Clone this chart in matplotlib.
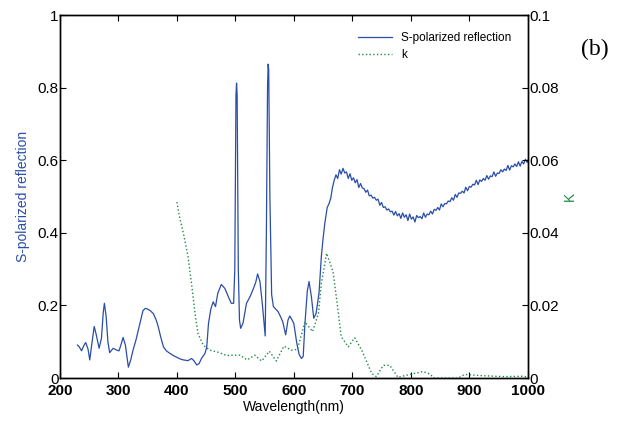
import matplotlib
matplotlib.use("Agg")
import matplotlib.pyplot as plt

plt.rcParams["font.family"] = ["Liberation Sans", "DejaVu Sans"]

# S-polarized reflection (left axis)
wl_s = [230, 233, 237, 241, 244, 248, 251, 255, 258.6, 262, 267, 271, 274, 276, 279, 282, 285,
        291, 297, 301, 305, 308, 312, 317, 321, 325, 330, 334, 338, 342, 346, 350, 355, 360,
        365, 368, 372, 377, 382, 388, 394, 400, 405, 411, 419, 425, 429, 434, 438, 442, 448,
        451, 454, 458, 462, 466, 470, 476, 482, 488, 493, 497, 499, 501, 502, 503, 505, 507,
        509, 513, 519, 525, 531, 535, 538, 542, 546, 549, 551, 553, 555, 556, 557, 559, 562,
        565, 569, 573, 577, 581, 586, 590, 593, 597, 600, 605, 609, 613, 616, 619, 623, 626,
        630, 634, 638, 643, 647, 650, 653, 657, 660, 663,
        666, 669, 672, 675, 678, 681, 684, 687, 690, 693, 696, 699, 702, 705, 708, 711, 714,
        717, 720, 723, 726, 729, 732, 735, 738, 741, 744, 747, 750, 753, 756, 759, 762, 765,
        768, 771, 774, 777, 780, 783, 786, 789, 792, 795, 798, 801, 804, 807, 810, 813, 816,
        819, 822, 825, 828, 831, 834, 837, 840, 843, 846, 849, 852, 855, 858, 861, 864, 867,
        870, 873, 876, 879, 882, 885, 888, 891, 894, 897, 900, 903, 906, 909, 912, 915, 918,
        921, 924, 927, 930, 933, 936, 939, 942, 945, 948, 951, 954, 957, 960, 963, 966, 969,
        972, 975, 978, 981, 984, 987, 990, 993, 996, 999, 1000]
refl_s = [0.091, 0.086, 0.075, 0.090, 0.098, 0.080, 0.050, 0.100, 0.142, 0.120, 0.082, 0.110,
          0.180, 0.206, 0.170, 0.100, 0.070, 0.082, 0.077, 0.075, 0.095, 0.112, 0.090, 0.030,
          0.050, 0.077, 0.105, 0.132, 0.160, 0.186, 0.192, 0.190, 0.185, 0.177, 0.158, 0.142,
          0.115, 0.086, 0.075, 0.068, 0.062, 0.057, 0.053, 0.050, 0.048, 0.054, 0.048, 0.036,
          0.040, 0.054, 0.068, 0.085, 0.150, 0.190, 0.210, 0.197, 0.234, 0.258, 0.247, 0.224,
          0.206, 0.206, 0.300, 0.780, 0.813, 0.780, 0.300, 0.160, 0.137, 0.151, 0.206, 0.224,
          0.247, 0.265, 0.287, 0.266, 0.206, 0.150, 0.116, 0.400, 0.800, 0.865, 0.850, 0.500,
          0.230, 0.197, 0.190, 0.183, 0.170, 0.155, 0.119, 0.160, 0.171, 0.160, 0.150, 0.096,
          0.065, 0.054, 0.060, 0.151, 0.240, 0.266, 0.224, 0.165, 0.178, 0.234, 0.335, 0.385,
          0.427, 0.470, 0.480, 0.495,
          0.525, 0.545, 0.560, 0.550, 0.574, 0.562, 0.578, 0.565, 0.568, 0.550, 0.563, 0.545,
          0.552, 0.538, 0.547, 0.525, 0.536, 0.524, 0.522, 0.512, 0.518, 0.502, 0.504, 0.496,
          0.498, 0.490, 0.493, 0.476, 0.484, 0.470, 0.472, 0.463, 0.466, 0.458, 0.460, 0.449,
          0.459, 0.447, 0.453, 0.440, 0.455, 0.443, 0.450, 0.434, 0.452, 0.438, 0.444, 0.430,
          0.448, 0.442, 0.445, 0.439, 0.455, 0.443, 0.452, 0.450, 0.460, 0.452, 0.465, 0.462,
          0.470, 0.463, 0.480, 0.472, 0.481, 0.480, 0.488, 0.486, 0.497, 0.490, 0.506, 0.498,
          0.510, 0.509, 0.515, 0.510, 0.526, 0.516, 0.528, 0.526, 0.534, 0.532, 0.545, 0.533,
          0.546, 0.542, 0.550, 0.545, 0.558, 0.548, 0.557, 0.555, 0.568, 0.556, 0.565, 0.564,
          0.574, 0.568, 0.576, 0.572, 0.586, 0.573, 0.585, 0.582, 0.590, 0.583, 0.596, 0.584,
          0.597, 0.590, 0.603, 0.594, 0.600]

# extinction coefficient k (right axis)
wl_k = [400, 405, 411, 419, 425, 431, 436, 445, 456, 473, 485, 496, 508, 520, 533, 545, 558,
        570, 583, 596, 606, 619, 632, 642, 647, 656, 667, 674, 681, 693, 704, 716, 733, 741,
        753, 764, 778, 793, 821, 830, 841, 881, 892, 918, 958, 992, 1000]
k_vals = [0.0485, 0.044, 0.040, 0.0335, 0.026, 0.0178, 0.0123, 0.0091, 0.0077, 0.0070, 0.0062,
          0.0063, 0.0063, 0.0050, 0.0063, 0.0047, 0.0074, 0.0047, 0.0088, 0.0077, 0.0079,
          0.0155, 0.0128, 0.0178, 0.026, 0.0344, 0.0293, 0.0206, 0.0114, 0.0086, 0.0111,
          0.0077, 0.0013, 0.0004, 0.0035, 0.0035, 0.0002, 0.0008, 0.0018, 0.0013, 0.0, 0.0,
          0.0010, 0.0007, 0.0004, 0.0005, 0.0003]

x_ticks = [200, 300, 400, 500, 600, 700, 800, 900, 1000]
left_ticks = [0, 0.2, 0.4, 0.6, 0.8, 1]
left_labels = ["0", "0.2", "0.4", "0.6", "0.8", "1"]
right_ticks = [0, 0.02, 0.04, 0.06, 0.08, 0.1]
right_labels = ["0", "0.02", "0.04", "0.06", "0.08", "0.1"]

blue = "#2a4da8"
green = "#1f8a45"

fig = plt.figure(figsize=(6.18, 4.21), dpi=100)
ax = fig.add_axes([0.097, 0.102, 0.757, 0.862])
ax2 = ax.twinx()

l1, = ax.plot(wl_s, refl_s, color=blue, linewidth=0.9, label="S-polarized reflection")
l2, = ax2.plot(wl_k, k_vals, color=green, linewidth=1.0, linestyle=":", label="k")

ax.set_xlim(200, 1000)
ax.set_ylim(0, 1)
ax2.set_ylim(0, 0.1)

ax.set_xticks(x_ticks)
ax.set_xticklabels([str(t) for t in x_ticks], fontweight="bold", fontsize=11)
ax.set_yticks(left_ticks)
ax.set_yticklabels(left_labels, fontsize=11)
ax2.set_yticks(right_ticks)
ax2.set_yticklabels(right_labels, fontsize=11)

ax.tick_params(axis="x", direction="in", top=True, length=4, pad=4)
ax.tick_params(axis="y", direction="in", length=4, pad=1)
ax2.tick_params(axis="y", direction="in", length=4, pad=1)

for a in (ax, ax2):
    for s in a.spines.values():
        s.set_linewidth(1.0)

ax.set_xlabel("Wavelength(nm)", fontsize=10, labelpad=2)
ax.set_ylabel("S-polarized reflection", fontsize=10, color=blue, labelpad=5)
ax2.set_ylabel("K", fontsize=10, color=green, labelpad=3, rotation=90)

ax.legend([l1, l2], ["S-polarized reflection", "k"], loc="upper right", frameon=False,
          fontsize=8.5, handlelength=2.8, borderaxespad=1.0, labelspacing=0.45)

fig.text(0.963, 0.87, "(b)", fontsize=17, family="Liberation Serif", ha="center")

fig.savefig("out.png", dpi=100)
